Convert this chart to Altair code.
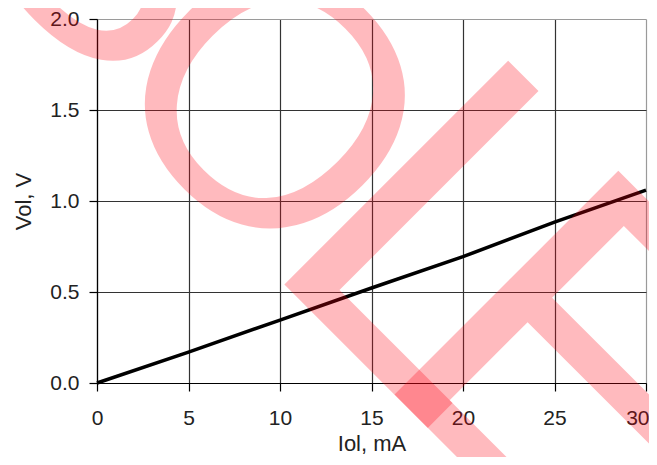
import altair as alt
import pandas as pd

# ---- chart data ----
iol_ma = [0, 5, 10, 15, 20, 25, 30]
vol_v = [0.0, 0.17, 0.346, 0.522, 0.694, 0.884, 1.06]

x_ticks = [0, 5, 10, 15, 20, 25, 30]
y_ticks = [0.0, 0.5, 1.0, 1.5, 2.0]

# ---- "OBSOLETE" watermark, one letter per row (anchor in data units) ----
watermark_letters = list("OBSOLETE")
watermark_x = [-28.60, -17.78, -7.97, -0.49, 8.78, 14.80, 26.66, 37.51]
watermark_y = [4.447, 3.359, 2.481, 1.621, 0.688, 0.083, -1.109, -2.201]
watermark_font_px = [360, 360, 360, 360, 460, 460, 460, 460]

df = pd.DataFrame({"Iol": iol_ma, "Vol": vol_v})
wdf = pd.DataFrame({
    "Iol": watermark_x, "Vol": watermark_y,
    "letter": watermark_letters, "fs": watermark_font_px,
})

FONT = "Liberation Sans, Arial, sans-serif"

x_axis = alt.Axis(
    values=x_ticks, format="d", title="Iol, mA",
    labelPadding=16, titlePadding=5, labelFlush=False,
    labelAlign={"condition": {"test": "datum.value === 30", "value": "right"}, "value": "center"},
    labelOffset={"condition": {"test": "datum.value === 30", "value": 3}, "value": 0},
    gridColor={"condition": {"test": "datum.value === 30", "value": "#9a9a9a"}, "value": "#333333"},
)
y_axis = alt.Axis(
    values=y_ticks, format=".1f", title="Vol, V",
    labelPadding=10, titlePadding=14, labelFlush=False,
    gridColor={"condition": {"test": "datum.value === 2", "value": "#9a9a9a"}, "value": "#333333"},
)
x_scale = alt.Scale(domain=[0, 30], nice=False, zero=False)
y_scale = alt.Scale(domain=[0, 2], nice=False, zero=False)

line = alt.Chart(df).mark_line(color="black", strokeWidth=3.5).encode(
    x=alt.X("Iol:Q", scale=x_scale, axis=x_axis),
    y=alt.Y("Vol:Q", scale=y_scale, axis=y_axis),
)

watermark = alt.Chart(wdf).mark_text(
    angle=45, align="left", baseline="alphabetic",
    font=FONT, color="#ff0010", opacity=0.267,
).encode(
    x=alt.X("Iol:Q", scale=x_scale, axis=x_axis),
    y=alt.Y("Vol:Q", scale=y_scale, axis=y_axis),
    text="letter:N",
    size=alt.Size("fs:Q", scale=None, legend=None),
)

chart = (
    alt.layer(line, watermark)
    .properties(
        width=549, height=364,
        padding={"left": 89, "top": 11, "right": 3, "bottom": 74},
        autosize=alt.AutoSizeParams(type="none"),
        background="white",
    )
    .configure_view(stroke=None)
    .configure_axis(
        grid=True, gridWidth=1.2, gridOpacity=1,
        domainColor="black", domainWidth=1.2,
        tickColor="black", tickWidth=1.2, tickSize=8,
        labelFont=FONT, labelFontSize=21, labelColor="#222222",
        titleFont=FONT, titleFontSize=22, titleFontWeight="normal", titleColor="#222222",
    )
)

chart.save("out.html", embed_options={"renderer": "svg", "actions": False})
